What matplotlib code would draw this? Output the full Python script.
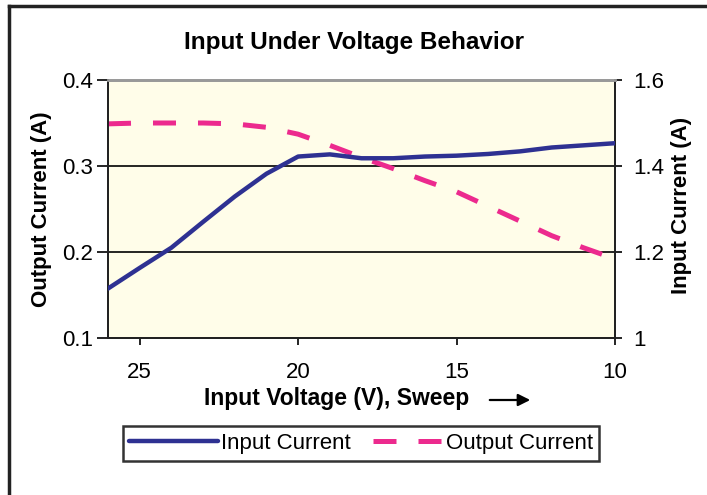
import numpy as np
import matplotlib.pyplot as plt
from matplotlib.lines import Line2D

plt.rcParams['font.family'] = ['Liberation Sans', 'DejaVu Sans']

voltage = [26, 25, 24, 23, 22, 21, 20, 19, 18, 17, 16, 15, 14, 13, 12, 11, 10]
output_current = [0.349, 0.350, 0.350, 0.350, 0.349, 0.345, 0.337, 0.324, 0.310,
                  0.297, 0.283, 0.270, 0.253, 0.236, 0.219, 0.205, 0.192]
input_current = [1.115, 1.163, 1.210, 1.270, 1.329, 1.382, 1.422, 1.427, 1.418,
                 1.418, 1.422, 1.424, 1.428, 1.434, 1.443, 1.448, 1.453]

blue = '#2E3192'
pink = '#EC2A8E'

W, H = 707, 495
fig = plt.figure(figsize=(W / 100, H / 100), dpi=100)
ax = fig.add_axes([108 / W, 1 - 338 / H, (615 - 108) / W, (338 - 80) / H])
ax.set_facecolor('#FFFDE9')

ax.plot(voltage, output_current, color=pink, lw=3.6, dashes=(4.6, 4.4),
        dash_capstyle='butt', zorder=3)
ax.set_xlim(26, 10)
ax.set_ylim(0.1, 0.4)
ax.set_yticks([0.1, 0.2, 0.3, 0.4])
ax.set_yticklabels(['0.1', '0.2', '0.3', '0.4'])
ax.set_xticks([25, 20, 15, 10])
ax.grid(axis='y', color='black', lw=1.2, zorder=1)
ax.set_axisbelow(True)
ax.tick_params(axis='y', direction='out', length=8, width=1.2, labelsize=16, pad=3)
ax.tick_params(axis='x', direction='out', length=5, width=1.2, labelsize=16, pad=12)

ax2 = ax.twinx()
ax2.plot(voltage, input_current, color=blue, lw=3.2, solid_capstyle='round', zorder=4)
ax2.set_ylim(1.0, 1.6)
ax2.set_yticks([1.0, 1.2, 1.4, 1.6])
ax2.set_yticklabels(['1', '1.2', '1.4', '1.6'])
ax2.tick_params(axis='y', direction='out', length=5, width=1.2, labelsize=16, pad=8)

for a in (ax, ax2):
    for s in a.spines.values():
        s.set_linewidth(1.4)
        s.set_color('#222222')
    a.spines['top'].set_color('#999999')
    a.spines['top'].set_linewidth(2)

fig.text(0.5, 1 - 42 / H, 'Input Under Voltage Behavior', ha='center', va='center',
         fontsize=17.5, fontweight='bold')
fig.text(42 / W, 1 - 209 / H, 'Output Current (A)', rotation=90, ha='center',
         va='center', fontsize=16, fontweight='bold')
fig.text(682 / W, 1 - 205 / H, 'Input Current (A)', rotation=90, ha='center',
         va='center', fontsize=16, fontweight='bold')
fig.text(204 / W, 1 - 399 / H, 'Input Voltage (V), Sweep', ha='left', va='center',
         fontsize=16.5, fontweight='bold')
ax.annotate('', xy=(533 / W, 1 - 400 / H), xytext=(487 / W, 1 - 400 / H),
            xycoords='figure fraction', textcoords='figure fraction',
            arrowprops=dict(arrowstyle='-|>', color='black', lw=1.6, mutation_scale=18))

handles = [Line2D([], [], color=blue, lw=3.2, solid_capstyle='round'),
           Line2D([], [], color=pink, lw=3.6, linestyle=(5.0, (4.6, 4.4)),
                  dash_capstyle='butt')]
leg = fig.legend(handles, ['Input Current', 'Output Current'], loc='center',
                 bbox_to_anchor=(361 / W, 1 - 443.5 / H), ncol=2, fontsize=16,
                 frameon=True, fancybox=False, edgecolor='black', handlelength=4.0,
                 handletextpad=0.15, columnspacing=0.1, borderpad=0.3,
                 borderaxespad=0)
leg.get_frame().set_linewidth(1.8)

# outer frame (top and left edges visible)
fig.add_artist(Line2D([8.5 / W, 1], [1 - 5.5 / H, 1 - 5.5 / H], color='#222222', lw=2.5))
fig.add_artist(Line2D([8.5 / W, 8.5 / W], [0, 1 - 5.5 / H], color='#222222', lw=2.5))

fig.savefig('out.png', dpi=100)
